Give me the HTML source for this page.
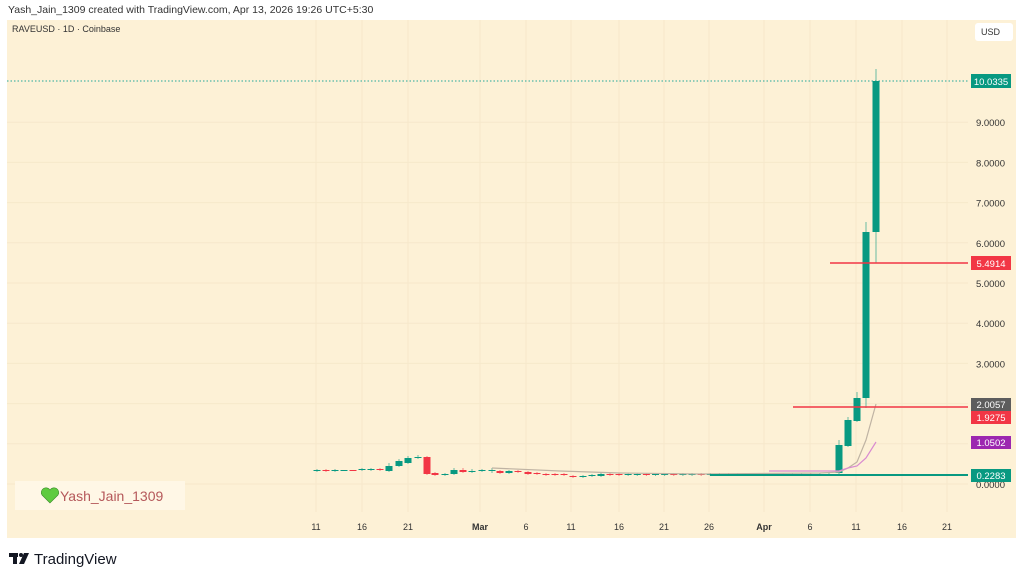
<!DOCTYPE html>
<html><head><meta charset="utf-8"><style>
body{margin:0;width:1024px;height:581px;background:#fff;font-family:"Liberation Sans",sans-serif;overflow:hidden;position:relative}
.t{position:absolute;white-space:nowrap}
</style></head><body>
<div class="t" style="left:8px;top:4px;font-size:10.5px;color:#333">Yash_Jain_1309 created with TradingView.com, Apr 13, 2026 19:26 UTC+5:30</div>
<svg width="1024" height="581" style="position:absolute;left:0;top:0" font-family="Liberation Sans, sans-serif">
<rect x="7" y="20" width="1009" height="518" fill="#fdf1d6"/>
<g stroke="#f6e8cb" stroke-width="1" id="grid"></g>
<line x1="7" y1="81" x2="968" y2="81" stroke="#22a89a" stroke-dasharray="1.5,2"/>
<g id="c"></g>
<polyline fill="none" stroke="#bfb3a3" stroke-width="1.2" points="492,468 560,471 620,473 700,474 820,473 839,472 848,468 857,462 866,440 876,404"/>
<polyline fill="none" stroke="#d98bd0" stroke-width="1.2" points="769,471 830,471 839,471 848,468 857,466 866,458 876,442"/>
<line x1="830" y1="263" x2="968" y2="263" stroke="#f23645" stroke-width="1.5"/>
<line x1="793" y1="407" x2="968" y2="407" stroke="#f23645" stroke-width="1.5"/>
<line x1="710" y1="475" x2="968" y2="475" stroke="#089981" stroke-width="2"/>
<g font-size="9.5" fill="#333" text-anchor="end" id="yl"></g>
<g font-size="9" fill="#333" text-anchor="middle" id="xl"></g>
<g font-size="9.5" fill="#fff" text-anchor="middle">
<rect x="971" y="74" width="40" height="14" fill="#089981"/><text x="991" y="85">10.0335</text>
<rect x="971" y="256" width="40" height="14" fill="#f23645"/><text x="991" y="267">5.4914</text>
<rect x="971" y="398" width="40" height="13" fill="#5d5d5d"/><text x="991" y="408">2.0057</text>
<rect x="971" y="411" width="40" height="13" fill="#f23645"/><text x="991" y="421">1.9275</text>
<rect x="971" y="436" width="40" height="13" fill="#9c27b0"/><text x="991" y="446">1.0502</text>
<rect x="971" y="469" width="40" height="13" fill="#089981"/><text x="991" y="479">0.2283</text>
</g>
<rect x="975" y="23" width="38" height="18" rx="3" fill="#fff"/>
<text x="981" y="35" font-size="9" fill="#333">USD</text>
<rect x="15" y="481" width="170" height="29" fill="#fff7e6"/>
<text x="60" y="501" font-size="14" fill="#b5585a">Yash_Jain_1309</text>
<path d="M50 503 l-8 -8 a4 4 0 0 1 8 -5 a4 4 0 0 1 8 5 z" fill="#5fcb3f" stroke="#3a8a2a" stroke-width="0.6"/>
<g fill="#131722"><rect x="9" y="553" width="9" height="4"/><rect x="13" y="553" width="4" height="11"/><circle cx="21" cy="555" r="2"/><path d="M24 553 h5 l-5 11 h-5z"/></g>
<text x="34" y="564" font-size="15" fill="#131722">TradingView</text>
</svg>
<div class="t" style="left:12px;top:24px;font-size:9px;color:#333">RAVEUSD · 1D · Coinbase</div>
<script>
var ns="http://www.w3.org/2000/svg";
function el(p,t,a,tx){var e=document.createElementNS(ns,t);for(var k in a)e.setAttribute(k,a[k]);if(tx)e.textContent=tx;document.getElementById(p).appendChild(e);}
var xs=[[316,"11"],[362,"16"],[408,"21"],[480,"Mar"],[526,"6"],[571,"11"],[619,"16"],[664,"21"],[709,"26"],[764,"Apr"],[810,"6"],[856,"11"],[902,"16"],[947,"21"]];
xs.forEach(function(d){el("grid","line",{x1:d[0],y1:20,x2:d[0],y2:512});el("xl","text",{x:d[0],y:530,"font-weight":d[1]=="Mar"||d[1]=="Apr"?"bold":"normal"},d[1]);});
for(var i=0;i<=9;i++){var y=484-i*40.2;el("grid","line",{x1:7,y1:y,x2:968,y2:y});el("yl","text",{x:1005,y:y+4},i+".0000");}
var G="#089981",R="#f23645";
var C=[[317,470,471,469,472,G],[326,470,471,469,472,R],[335,470,471,469,472,G],[344,470,471,470,471,G],[353,470,471,470,471,R],[362,469,470,468,471,G],[371,469,470,468,471,G],[380,469,470,468,471,R],[389,466,471,463,472,G],[399,461,466,459,467,G],[408,458,463,456,464,G],[418,457,458,455,459,G],[427,457,474,456,475,R],[435,473,475,472,476,R],[445,474,475,473,476,G],[454,470,474,468,475,G],[463,470,472,468,473,R],[472,471,472,469,473,G],[482,470,471,469,472,G],[492,470,471,468,473,G],[500,471,473,470,474,R],[509,471,473,470,474,G],[518,471,472,470,473,R],[528,472,474,471,475,R],[537,473,474,472,475,R],[546,474,475,473,476,R],[555,474,475,473,476,R],[564,474,475,473,476,R],[573,476,477,475,478,R],[583,476,477,475,478,G],[592,475,476,474,477,G],[601,474,476,473,477,G],[610,474,475,473,476,R]];
for(var x=619,k=0;x<=830;x+=9.13,k++)C.push([x,474,475,473,476,k%3==0?R:G]);
C.push([839,445,473,440,474,G],[848,420,446,417,447,G],[857,398,421,392,422,G],[866,232,398,222,408,G],[876,81,232,69,263,G]);
C.forEach(function(c){el("c","line",{x1:c[0],y1:c[3],x2:c[0],y2:c[4],stroke:c[5],"stroke-width":1,opacity:0.6});el("c","rect",{x:c[0]-3.5,y:c[1],width:7,height:Math.max(1,c[2]-c[1]),fill:c[5]});});
</script>
</body></html>
